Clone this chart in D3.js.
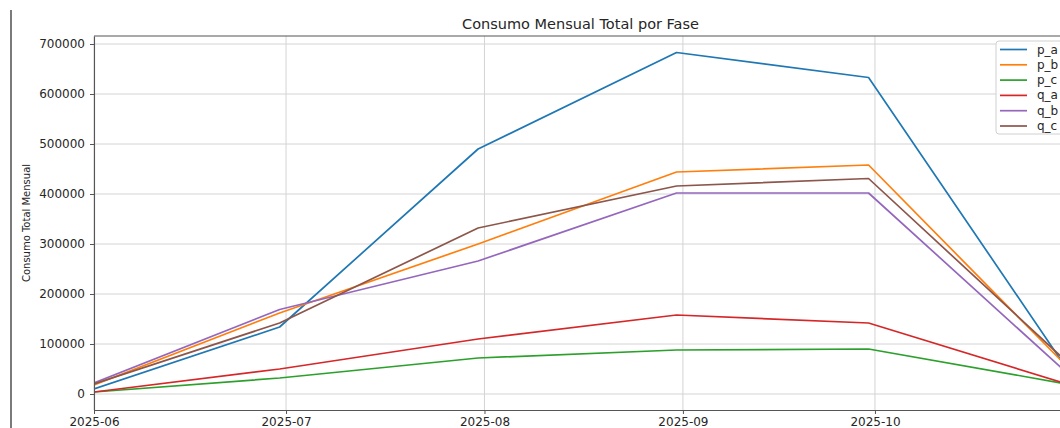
<!DOCTYPE html>
<html>
  <head>
    <meta charset="UTF-8">
    <title>Consumo Mensual Total por Fase</title>
    <script src="https://d3js.org/d3.v7.min.js"></script>
    <style>
      body {
        margin: 0;
        background: #fff;
        font-family: "DejaVu Sans", sans-serif;
        overflow: hidden;
      }
      .tick text {
        font-size: 12px;
        fill: #262626;
      }
      .grid line {
        stroke: #d4d4d4;
        stroke-width: 1;
      }
      .line {
        fill: none;
        stroke-width: 1.7;
        stroke-linejoin: round;
      }
    </style>
  </head>
  <body>
    <div id="chart"></div>
<script>
  // months
  var dates = ["2025-06-01", "2025-06-30", "2025-07-31", "2025-08-31", "2025-09-30", "2025-10-31"];
  var p_a = [10000, 134000, 490000, 683000, 633000, 50000];
  var p_b = [18000, 162000, 300000, 444000, 458000, 55000];
  var p_c = [4000, 32000, 72000, 88000, 90000, 20000];
  var q_a = [4000, 50000, 110000, 158000, 142000, 20000];
  var q_b = [22000, 169000, 266000, 402000, 402000, 42000];
  var q_c = [20000, 142000, 332000, 416000, 431000, 64000];
  var seriesNames = ["p_a", "p_b", "p_c", "q_a", "q_b", "q_c"];
  var colors = ["#1f77b4", "#ff7f0e", "#2ca02c", "#d62728", "#9467bd", "#8c564b"];
  var yTicks = [0, 100000, 200000, 300000, 400000, 500000, 600000, 700000];
  var xTicks = ["2025-06-01", "2025-07-01", "2025-08-01", "2025-09-01", "2025-10-01"];

  var seriesValues = [p_a, p_b, p_c, q_a, q_b, q_c];
  var parse = d3.timeParse("%Y-%m-%d");

  var W = 1060, H = 428;
  var margin = {top: 36, left: 94, bottom: 18};
  var plotRight = 1067;

  var svg = d3.select("#chart").append("svg")
    .attr("width", W)
    .attr("height", H);

  // page border line on the left
  svg.append("line")
    .attr("x1", 11).attr("x2", 11)
    .attr("y1", 10).attr("y2", H)
    .attr("stroke", "#333").attr("stroke-width", 1.3);

  var x = d3.scaleTime()
    .domain([parse(dates[0]), parse(dates[dates.length - 1])])
    .range([margin.left, plotRight]);

  var y = d3.scaleLinear()
    .domain([-32000, 716000])
    .range([H - margin.bottom, margin.top]);

  svg.append("defs").append("clipPath").attr("id", "clip")
    .append("rect")
      .attr("x", margin.left).attr("y", margin.top)
      .attr("width", plotRight - margin.left)
      .attr("height", H - margin.bottom - margin.top);

  // grid
  var grid = svg.append("g").attr("class", "grid");
  grid.selectAll(".gx").data(xTicks).enter().append("line")
    .attr("x1", d => x(parse(d))).attr("x2", d => x(parse(d)))
    .attr("y1", margin.top).attr("y2", H - margin.bottom);
  grid.selectAll(".gy").data(yTicks).enter().append("line")
    .attr("x1", margin.left).attr("x2", plotRight)
    .attr("y1", d => y(d)).attr("y2", d => y(d));

  // lines
  var line = d3.line()
    .x((d, i) => x(parse(dates[i])))
    .y(d => y(d));

  svg.append("g").attr("clip-path", "url(#clip)")
    .selectAll("path").data(seriesValues).enter().append("path")
      .attr("class", "line")
      .attr("stroke", (d, i) => colors[i])
      .attr("d", line);

  // axes
  var xAxis = svg.append("g")
    .attr("transform", "translate(0," + (H - margin.bottom) + ")")
    .call(d3.axisBottom(x)
      .tickValues(xTicks.map(parse))
      .tickFormat(d3.timeFormat("%Y-%m"))
      .tickSizeInner(4).tickSizeOuter(0).tickPadding(3));

  var yAxis = svg.append("g")
    .attr("transform", "translate(" + margin.left + ",0)")
    .call(d3.axisLeft(y)
      .tickValues(yTicks)
      .tickFormat(d3.format("d"))
      .tickSizeInner(4).tickSizeOuter(0).tickPadding(5));

  [xAxis, yAxis].forEach(function(a) {
    a.select(".domain").attr("stroke", "#555").attr("stroke-width", 1.1);
    a.selectAll(".tick line").attr("stroke", "#555");
    a.selectAll(".tick text").style("font-family", "DejaVu Sans");
  });

  // top spine
  svg.append("line")
    .attr("x1", margin.left).attr("x2", plotRight)
    .attr("y1", margin.top).attr("y2", margin.top)
    .attr("stroke", "#555").attr("stroke-width", 1.1);

  // title
  svg.append("text")
    .attr("x", (margin.left + plotRight) / 2)
    .attr("y", 29)
    .attr("text-anchor", "middle")
    .style("font-size", "14.5px")
    .style("fill", "#262626")
    .text("Consumo Mensual Total por Fase");

  // y label
  svg.append("text")
    .attr("transform", "translate(30," + ((margin.top + H - margin.bottom) / 2) + ") rotate(-90)")
    .attr("text-anchor", "middle")
    .style("font-size", "10px")
    .style("fill", "#262626")
    .text("Consumo Total Mensual");

  // legend
  var legend = svg.append("g").attr("transform", "translate(996,41)");
  legend.append("rect")
    .attr("width", 70).attr("height", 93)
    .attr("rx", 3)
    .attr("fill", "#fff").attr("fill-opacity", 0.85)
    .attr("stroke", "#d0d0d0");
  var items = legend.selectAll(".item").data(seriesNames).enter().append("g")
    .attr("transform", (d, i) => "translate(0," + (8.5 + i * 15.3) + ")");
  items.append("line")
    .attr("x1", 4).attr("x2", 31)
    .attr("stroke", (d, i) => colors[i])
    .attr("stroke-width", 1.7);
  items.append("text")
    .attr("x", 41).attr("y", 4)
    .style("font-size", "12px")
    .style("fill", "#262626")
    .text(d => d);
</script>
  </body>
</html>
